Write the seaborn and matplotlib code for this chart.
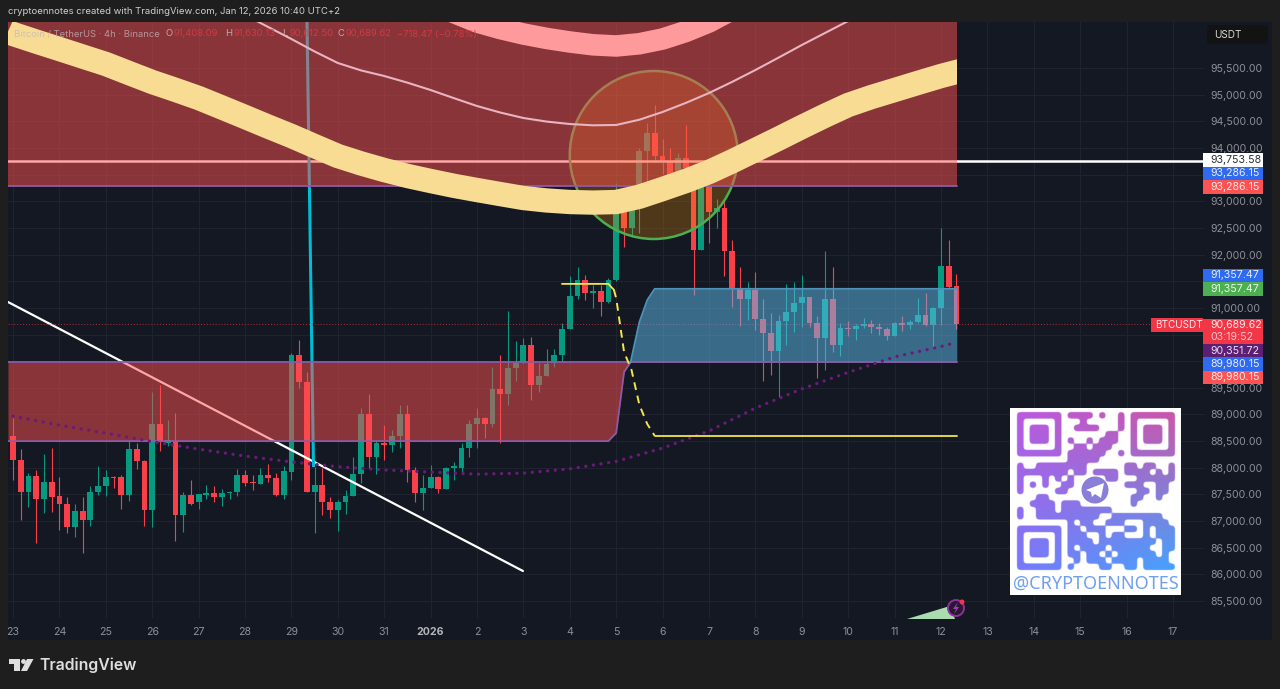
import numpy as np
import matplotlib
matplotlib.use("Agg")
import matplotlib.pyplot as plt
from matplotlib.patches import Rectangle, Ellipse, Circle, Polygon, FancyBboxPatch
import seaborn as sns

# ---------- data ----------
opens = [88600,88150,87550,87850,87420,87730,87470,87320,86880,87180,87020,87540,87650,87830,87820,87490,88350,88130,87200,88820,88460,88510,87110,87490,87350,87490,87520,87450,87530,87550,87870,87730,87700,87870,87810,87490,87930,90110,89600,87550,87670,87350,87210,87360,87480,
         87880,89000,88210,88470,88430,88600,89000,87960,87520,87630,87830,87600,88005,88000,88380,88820,88930,88830,89480,89390,89880,89960,90300,89550,89730,89960,90110,90610,91220,91520,91285,91320,91110,
         91520,93050,92490,92950,93950,94290,93840,93760,93430,93820,93620,92090,93300,92790,92870,
         92070,91350,91160,91340,90790,90530,90200,90760,90920,91090,91200,90720,90440,91160,90300,90620,90600,90660,90700,90650,90600,90480,90720,90680,90730,90860,90670,90990,91790,91408.09]
highs = [88930,88350,87900,87950,88260,88370,87830,87450,87330,87460,87660,88030,87960,87850,87870,88520,88460,88140,89430,89550,88900,89030,87550,87770,87510,87680,87660,87610,87570,87970,87960,87870,87990,88070,87910,88030,90160,90400,89800,88020,87990,87460,87400,87580,88210,
         89130,89380,88530,88800,88710,89180,89180,88020,87860,88050,87840,88020,88100,88460,88900,89120,88960,89900,90120,90950,90380,90430,90460,89960,90230,90230,90720,91600,91770,91620,91430,91430,91560,
         93340,93150,93000,94000,94460,94810,94160,93990,93900,94430,93650,93710,93590,93050,93020,
         92270,91770,91480,91680,91160,90900,90870,91450,91490,91620,91210,90840,92070,91770,90710,90760,90700,90810,90770,90720,90640,90730,90840,90770,91180,91270,91010,92490,92270,91630.13]
lows = [87780,87020,87270,86580,87150,87170,86830,86770,86710,86410,86900,87490,87480,87630,87230,87370,87970,86910,86880,88320,88400,86630,86790,87300,87230,87410,87350,87290,87410,87480,87660,87580,87695,87740,87480,87410,87780,89490,87550,86780,87110,87050,86820,87130,87480,
         87710,87990,87880,88150,88300,88380,87740,87360,87210,87620,87530,87600,87780,87930,88210,88380,88550,88760,88460,89180,89620,89960,89280,89420,89720,89900,90010,90600,91160,91150,90990,90850,91100,
         91500,92140,92340,92400,93300,93770,93520,93300,93300,93500,91240,92090,92210,92490,91590,
         91010,90660,90770,90590,89620,89750,89330,90300,90550,90650,90650,89680,89830,90180,90100,90470,90400,90620,90520,90490,90400,90470,90570,90610,90710,90660,90270,90670,91370,90612.50]
closes = [88150,87550,87850,87420,87730,87460,87320,86880,87180,87020,87540,87650,87820,87815,87490,88350,88120,87200,88820,88480,88520,87110,87490,87330,87500,87520,87450,87520,87550,87870,87710,87715,87870,87810,87490,87940,90110,89600,87550,87670,87350,87210,87360,87480,87880,
          89000,88210,88460,88430,88600,89000,87960,87520,87630,87830,87600,88000,88020,88380,88820,88930,88830,89480,89390,89880,89960,90300,89550,89730,89950,90110,90610,91220,91520,91270,91320,91110,91520,
          93050,92490,92950,93950,94290,93840,93760,93430,93820,93620,92090,93700,92790,92870,92070,
          91350,91160,91340,90790,90520,90200,90760,90920,91090,91200,90720,90440,91160,90300,90630,90600,90660,90700,90650,90600,90480,90720,90670,90735,90870,90670,90990,91790,91390,90689.62]

ma_days = [-0.11,0,0.5,1,1.5,2,2.5,3,3.5,4,4.5,5,5.5,6,6.5,7,7.5,8,8.5,9,9.5,10,10.5,11,11.5,12,12.5,13,13.5,14,14.5,15,15.5,16,16.5,17,17.5,18,18.5,19,19.5,20,20.33,20.6]
ma_slow = [96180,96138,95995,95856,95715,95575,95405,95237,95090,94937,94760,94581,94400,94224,94035,93849,93710,93586,93475,93380,93290,93211,93135,93061,93015,92986,92975,92986,93085,93230,93380,93549,93750,93962,94175,94393,94605,94806,94955,95087,95220,95350,95425,95480]
band_days = [8,9,9.5,10,10.5,11,11.5,12,12.5,13,13.5,14,14.5,15,15.5,16,17]
band_vals = [97057,96738,96540,96363,96240,96138,96055,95988,95935,95913,95955,96044,96185,96363,96595,96869,97338]
thin_days = [5,6,6.5,7,7.5,8,8.5,9,9.5,10,10.5,11,11.5,12,12.5,13,13.5,14,14.5,15,15.5,16,16.5,17,18]
thin_vals = [96494,96044,95810,95594,95455,95350,95225,95087,94935,94787,94665,94562,94495,94449,94425,94431,94530,94675,94845,95031,95240,95462,95695,95931,96382]
dot_days = [0,1,2,3,4,5,6,7,8,9,10,11,12,13,14,15,16,17,18,19,20,20.33]
dot_vals = [88970,88800,88650,88490,88350,88220,88110,88020,87960,87920,87880,87900,87980,88120,88370,88690,89120,89480,89790,90080,90275,90351.72]

zone_days = [-0.11,12.83,13.0,13.17,13.31]
zone_low = [88500,88500,88653,89797,89980]
blue_days = [13.31,13.5,13.67,13.83,20.34]
blue_high = [89980,90735,91148,91357.47,91357.47]
fib_days = [11.83,12.83,12.95]
fib_vals = [91450,91450,91340]
dash_days = [12.95,13.0,13.17,13.33,13.5,13.67,13.83]
dash_vals = [91340,91180,90170,89835,89180,88820,88600]

day_labels = ['23','24','25','26','27','28','29','30','31','2026','2','3','4','5','6','7','8','9','10','11','12','13','14','15','16','17']
price_ticks = list(range(85500, 96000, 500))
hidden_prices = [93500, 91500, 90500, 90000]

tags = [("93,753.58", 160, "#ffffff", "#2a2e39"), ("93,286.15", 173.5, "#2f6bf0", "#e8ecf5"), ("93,286.15", 187, "#ff5252", "#ffe8e8"),
        ("91,357.47", 275.5, "#2f6bf0", "#e8ecf5"), ("91,357.47", 289, "#4caf50", "#eaf7ea"),
        ("90,351.72", 350.5, "#5c1f73", "#eadcf0"), ("89,980.15", 364, "#2f6bf0", "#e8ecf5"), ("89,980.15", 377.5, "#ff5252", "#ffe8e8")]

qr_rows = ["1111111011110100101111111",
           "1000001000100000101000001",
           "1011101001111000101011101",
           "1011101000000011001011101",
           "1011101010010111001011101",
           "1000001001101110001000001",
           "1111111011111100101111111",
           "0000000011111000000000000",
           "1001111111100000011011001",
           "1111111101101111011110101",
           "1000101010000011000111111",
           "1010100110000000011100110",
           "1000001100000000000110110",
           "0001100000000000001100100",
           "0011110111000000001000000",
           "1001110111111110000000000",
           "1001111111111001111111100",
           "0000000010110011100011110",
           "1111111011011100011010111",
           "1000001011100101100010111",
           "1011101011110111111111011",
           "1011101010111101111110011",
           "1011101011011010111111010",
           "1000001001011101111011110",
           "1111111010000110011011111"]

# ---------- figure ----------
sns.set_theme(style="dark", rc={"axes.edgecolor": "none", "xtick.bottom": False, "ytick.left": False})
plt.rcParams['font.family'] = ['Inter', 'DejaVu Sans']

W, H = 1280, 689
BG = "#1e1e1e"
PANEL = "#141822"
fig = plt.figure(figsize=(W / 100, H / 100), dpi=100, facecolor=BG)
fig.add_artist(Rectangle((8 / W, 1 - 640 / H), (1272 - 8) / W, (640 - 22) / H, transform=fig.transFigure, fc=PANEL, ec="none", zorder=-5))

ax = fig.add_axes([8 / W, 1 - 618 / H, 1197 / W, 596 / H], facecolor=PANEL)
ax.set_xlim(-0.108, 25.69)
ax.set_ylim(85182, 96363)
ax.set_axisbelow(True)
ax.set_xticks(range(len(day_labels)))
ax.set_xticklabels(day_labels, fontsize=7.6, color="#8d9098")
ax.get_xticklabels()[9].set_fontweight("bold")
ax.get_xticklabels()[9].set_color("#b4b6bc")
ax.set_yticks(price_ticks)
ax.set_yticklabels(["" if p in hidden_prices else f"{p:,.2f}" for p in price_ticks], fontsize=7.6, color="#8d9098")
ax.yaxis.tick_right()
ax.tick_params(axis="y", pad=4, length=0)
ax.tick_params(axis="x", pad=6.5, length=0)
ax.grid(True, color="#1f2430", lw=0.7)
for s in ax.spines.values():
    s.set_visible(False)

# candles
t = np.arange(len(opens)) / 6
o, h, l, c = map(np.array, (opens, highs, lows, closes))
up = c >= o
cols = np.where(up, "#089981", "#f8404a")
ax.vlines(t, l, h, colors=cols, lw=0.8, zorder=2)
ax.bar(t, np.maximum(np.abs(c - o), 20), bottom=np.minimum(o, c), width=0.125, color=cols, lw=0, zorder=2.1)

# drawings below the zones
ax.axhline(93753.58, color="white", lw=1.8, zorder=2.2)
ax.plot([-0.108, 10.99], [91110, 86064], color="white", lw=1.6, zorder=2.2)
ax.plot([6.336, 6.476], [96363, 88015], color="#00bcd4", lw=2.2, zorder=2.2, solid_capstyle="butt")
ax.plot([-0.108, 24.5], [90689.62, 90689.62], color="#f23645", lw=0.7, ls=(0, (1, 2)), alpha=0.7, zorder=2.2)
ax.add_patch(Ellipse((13.81, 93868), 168 / 46.4, 168 * 18.76, fc=(1, 0.596, 0, 0.25), ec="#4caf50", lw=1.8, zorder=2.5))

# zones
RED, PURPLE, BLUE = "#ff5050", "#8e5aa8", "#5ebef0"
ax.fill_between([-0.108, 20.34], 93286.15, 96363, color=RED, alpha=0.5, lw=0, zorder=3)
ax.plot([-0.108, 20.34], [93286.15, 93286.15], color=PURPLE, lw=1.3, zorder=3.1)
ax.fill_between(zone_days, zone_low, 89980.15, color=RED, alpha=0.5, lw=0, zorder=3)
ax.plot([-0.108, 13.31], [89980.15, 89980.15], color=PURPLE, lw=1.3, zorder=3.1)
ax.plot(zone_days, zone_low, color=PURPLE, lw=1.3, zorder=3.1)
ax.fill_between(blue_days, 89980.15, blue_high, color=BLUE, alpha=0.5, lw=0, zorder=3)
ax.plot([13.31, 20.34], [89980.15, 89980.15], color=PURPLE, lw=1.3, zorder=3.1)
ax.plot(blue_days, blue_high, color="#4f93ba", lw=1.3, zorder=3.1)

# moving averages
sns.lineplot(x=band_days, y=band_vals, ax=ax, color="#ff9a9c", lw=15.5, zorder=4, solid_capstyle="butt", legend=False)
sns.lineplot(x=ma_days, y=ma_slow, ax=ax, color="#f8dc94", lw=17.5, zorder=4.2, solid_capstyle="butt", solid_joinstyle="round", legend=False)
ax.lines[-1].set_clip_path(Rectangle((-0.108, 85182), 20.448, 11181, transform=ax.transData))
sns.lineplot(x=thin_days, y=thin_vals, ax=ax, color="#e7b4c0", lw=1.5, zorder=4.1, legend=False)
sns.lineplot(x=dot_days, y=dot_vals, ax=ax, color="#6a1b7a", lw=2.4, zorder=4.3, linestyle=(0, (0.01, 2.3)), dash_capstyle="round", legend=False)
sns.lineplot(x=fib_days, y=fib_vals, ax=ax, color="#f2e64a", lw=1.3, zorder=4.4, legend=False)
sns.lineplot(x=dash_days, y=dash_vals, ax=ax, color="#f2e64a", lw=1.4, zorder=4.4, linestyle=(0, (4, 3)), legend=False)
ax.plot([13.83, 20.34], [88600, 88600], color="#f2e64a", lw=1.3, zorder=4.4)
ax.set_xlabel("")
ax.set_ylabel("")
ax.set_xlim(-0.108, 25.69)
ax.set_ylim(85182, 96363)

# ---------- chrome in pixel coordinates ----------
px = fig.add_axes([0, 0, 1, 1], facecolor="none", zorder=10)
px.set_xlim(0, W)
px.set_ylim(H, 0)
px.axis("off")

def label(x, y, s, color="#d0d0d0", size=7.6, **kw):
    kw.setdefault("va", "center")
    kw.setdefault("ha", "left")
    px.text(x, y, s, color=color, fontsize=size, **kw)

label(8, 12, "cryptoennotes created with TradingView.com, Jan 12, 2026 10:40 UTC+2", "#cfcfcf", 6.85)
grey_leg = "#c4b6ba"
red_leg = "#d93a46"
label(14, 34, "Bitcoin / TetherUS · 4h · Binance", grey_leg, 6.8, alpha=0.75)
for x, s, col in [(166, "O", grey_leg), (174, "91,408.09", red_leg), (225, "H", grey_leg), (233, "91,630.13", red_leg),
                  (282, "L", grey_leg), (289, "90,612.50", red_leg), (338, "C", grey_leg), (346, "90,689.62", red_leg),
                  (397, "−718.47 (−0.78%)", red_leg)]:
    label(x, 34, s, col, 6.8, alpha=0.9)

# USDT box
px.add_patch(FancyBboxPatch((1207, 25), 61, 19, boxstyle="round,pad=0,rounding_size=3", fc="#131313", ec="none"))
label(1214, 35, "USDT", "#d8d8d8", 7.2)

# price tags
for s, y, fc, tc in tags:
    px.add_patch(Rectangle((1203, y - 6.7), 60, 13.4, fc=fc, ec="none"))
    label(1210.5, y, s, tc, 7.6)
px.add_patch(Rectangle((1151, 318), 52, 14, fc="#f23645", ec="none"))
label(1155, 325, "BTCUSDT", "#ffe8ea", 7.2)
px.add_patch(Rectangle((1203, 319), 60, 24.5, fc="#f23645", ec="none"))
label(1210.5, 325.5, "90,689.62", "#ffe8ea", 7.6)
label(1210.5, 337, "03:19:52", "#ffc4c9", 7.6)

# QR block
px.add_patch(Rectangle((1010, 408), 171, 187, fc="white", ec="none"))
qr = np.array([[int(ch) for ch in r] for r in qr_rows], dtype=float)
scale = 12
big = np.kron(qr, np.ones((scale, scale)))
big = np.pad(big, scale // 2, constant_values=0)
kx = np.exp(-0.5 * (np.arange(-9, 10) / 3.2) ** 2)
kx /= kx.sum()
soft = np.apply_along_axis(lambda r: np.convolve(r, kx, mode="same"), 0, big)
soft = np.apply_along_axis(lambda r: np.convolve(r, kx, mode="same"), 1, soft)
mask = np.clip((soft - 0.47) * 5 + 0.5, 0, 1)
n = mask.shape[0]
u, v = np.meshgrid(np.linspace(0, 1, n), np.linspace(0, 1, n))
tl, tr, bl, br = np.array([185, 90, 225.]), np.array([205, 85, 165.]), np.array([120, 120, 250.]), np.array([65, 165, 255.])
grad = ((1 - u)[..., None] * (1 - v)[..., None] * tl + u[..., None] * (1 - v)[..., None] * tr
        + (1 - u)[..., None] * v[..., None] * bl + u[..., None] * v[..., None] * br)
img = (mask[..., None] * grad + (1 - mask[..., None]) * 255) / 255
pad_px = 157 / 50
px.imshow(img, extent=(1017 - pad_px, 1174 + pad_px, 570 + pad_px, 413 - pad_px), interpolation="antialiased", aspect="auto", zorder=3)
px.add_patch(Circle((1095, 490), 13.5, fc="#8a7fd8", ec="none", zorder=4))
px.add_patch(Polygon([(1086, 490), (1104, 483), (1101, 498), (1095, 494), (1092, 497), (1091, 492)], fc="white", ec="none", zorder=5))
label(1095.5, 584, "@CRYPTOENNOTES", "#6ea0ee", 13, ha="center", family=["Noto Sans", "DejaVu Sans"], fontweight="medium", zorder=5)
px.set_xlim(0, W)
px.set_ylim(H, 0)

# badge
px.add_patch(Polygon([(907, 619), (950, 606), (955, 619)], fc="#a9dcae", ec="none"))
px.add_patch(Circle((956, 608), 8, fc="#2a1830", ec="#8e2ea0", lw=1.4))
px.add_patch(Polygon([(958, 602), (953, 609), (956, 609), (954, 614), (959, 607), (956, 607)], fc="#9c3fc0", ec="none"))
px.add_patch(Circle((962, 602), 2.5, fc="#f23645", ec="none"))

# TradingView logo
LOGO = "#dedede"
px.add_patch(Polygon([(9, 659), (20, 659), (20, 671), (14, 671), (14, 664), (9, 664)], fc=LOGO, ec="none"))
px.add_patch(Circle((23.5, 661.5), 2.4, fc=LOGO, ec="none"))
px.add_patch(Polygon([(27, 659), (33.5, 659), (27, 671), (21, 671)], fc=LOGO, ec="none"))
label(39, 665, "TradingView", LOGO, 11.4, fontweight="semibold")

fig.savefig("out.png", dpi=100, facecolor=BG)
